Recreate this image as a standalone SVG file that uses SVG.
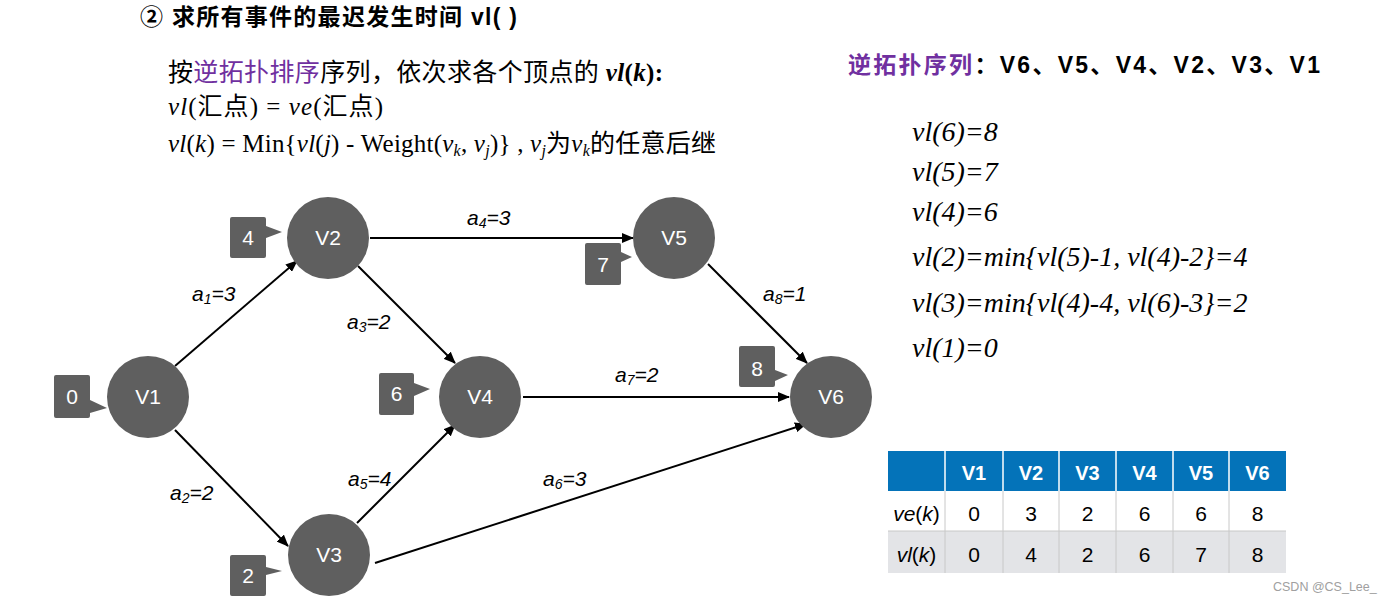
<svg xmlns="http://www.w3.org/2000/svg" width="1387" height="602" viewBox="0 0 1387 602">
<style>
.title{font-family:"Liberation Sans","Noto Sans CJK SC",sans-serif;font-weight:bold;font-size:23px;fill:#000}
.serif{font-family:"Liberation Serif","Noto Sans CJK SC",serif;font-size:25px;fill:#000}
.formula{font-family:"Liberation Serif",serif;font-style:italic;font-size:28px;fill:#000}
.head{font-family:"Liberation Sans","Noto Sans CJK SC",sans-serif;font-weight:bold;font-size:23px;fill:#000}
.node circle{fill:#5f5f5f}
.node text{font-family:"Liberation Sans",sans-serif;font-size:21px;fill:#fff;text-anchor:middle}
.badge path{fill:#5f5f5f}
.badge text{font-family:"Liberation Sans",sans-serif;font-size:21px;fill:#fff;text-anchor:middle}
.edge line{stroke:#000;stroke-width:2;marker-end:url(#arr)}
.elabel{font-family:"Liberation Sans",sans-serif;font-style:italic;font-size:21px;fill:#000}
.sub{font-size:14px}
.th{font-family:"Liberation Sans",sans-serif;font-weight:bold;font-size:20px;fill:#fff;text-anchor:middle}
.td{font-family:"Liberation Sans",sans-serif;font-size:21px;fill:#000;text-anchor:middle}
.purple{fill:#7030a0}
</style>
<defs>
<marker id="arr" markerUnits="userSpaceOnUse" markerWidth="12" markerHeight="10" refX="11" refY="5" orient="auto">
<path d="M0,0 L12,5 L0,10 z" fill="#000"/>
</marker>
</defs>
<rect width="1387" height="602" fill="#fff"/>

<text class="title" x="140" y="25" textLength="377" lengthAdjust="spacing">② 求所有事件的最迟发生时间 vl( )</text>

<text class="serif" x="168" y="81" textLength="495" lengthAdjust="spacing">按<tspan class="purple">逆拓扑排序</tspan>序列，依次求各个顶点的 <tspan font-weight="bold" font-style="italic">vl</tspan><tspan font-weight="bold">(</tspan><tspan font-weight="bold" font-style="italic">k</tspan><tspan font-weight="bold">):</tspan></text>
<text class="serif" x="168" y="115" textLength="215" lengthAdjust="spacing"><tspan font-style="italic">vl</tspan>(汇点) = <tspan font-style="italic">ve</tspan>(汇点)</text>
<text class="serif" x="168" y="152" textLength="548" lengthAdjust="spacing"><tspan font-style="italic">vl</tspan>(<tspan font-style="italic">k</tspan>) = Min{<tspan font-style="italic">vl</tspan>(<tspan font-style="italic">j</tspan>) - Weight(<tspan font-style="italic">v</tspan><tspan font-style="italic" font-size="16" dy="4">k</tspan><tspan dy="-4">, </tspan><tspan font-style="italic">v</tspan><tspan font-style="italic" font-size="16" dy="4">j</tspan><tspan dy="-4">)} , </tspan><tspan font-style="italic">v</tspan><tspan font-style="italic" font-size="16" dy="4">j</tspan><tspan dy="-4">为</tspan><tspan font-style="italic">v</tspan><tspan font-style="italic" font-size="16" dy="4">k</tspan><tspan dy="-4">的任意后继</tspan></text>

<text class="head" x="848" y="73" textLength="472" lengthAdjust="spacing"><tspan class="purple">逆拓扑序列</tspan>：V6、V5、V4、V2、V3、V1</text>

<text class="formula" x="912" y="141">vl(6)=8</text>
<text class="formula" x="912" y="181">vl(5)=7</text>
<text class="formula" x="912" y="221">vl(4)=6</text>
<text class="formula" x="912" y="266">vl(2)=min{vl(5)-1, vl(4)-2}=4</text>
<text class="formula" x="912" y="312">vl(3)=min{vl(4)-4, vl(6)-3}=2</text>
<text class="formula" x="912" y="357">vl(1)=0</text>

<g id="connectors" class="edge">
<line x1="175" y1="366" x2="297" y2="261"/>
<line x1="370" y1="238" x2="633" y2="238"/>
<line x1="358" y1="266" x2="455" y2="363"/>
<line x1="708" y1="264" x2="807" y2="363"/>
<line x1="523" y1="397" x2="789" y2="397"/>
<line x1="175" y1="430" x2="288" y2="546"/>
<line x1="357" y1="523" x2="455" y2="425"/>
<line x1="375" y1="563" x2="806" y2="424"/>
</g>

<g id="edge-labels">
<text class="elabel" x="192" y="301">a<tspan class="sub" dy="3">1</tspan><tspan dy="-3">=3</tspan></text>
<text class="elabel" x="170" y="500">a<tspan class="sub" dy="3">2</tspan><tspan dy="-3">=2</tspan></text>
<text class="elabel" x="347" y="329">a<tspan class="sub" dy="3">3</tspan><tspan dy="-3">=2</tspan></text>
<text class="elabel" x="467" y="225">a<tspan class="sub" dy="3">4</tspan><tspan dy="-3">=3</tspan></text>
<text class="elabel" x="348" y="486">a<tspan class="sub" dy="3">5</tspan><tspan dy="-3">=4</tspan></text>
<text class="elabel" x="543" y="486">a<tspan class="sub" dy="3">6</tspan><tspan dy="-3">=3</tspan></text>
<text class="elabel" x="615" y="382">a<tspan class="sub" dy="3">7</tspan><tspan dy="-3">=2</tspan></text>
<text class="elabel" x="763" y="301">a<tspan class="sub" dy="3">8</tspan><tspan dy="-3">=1</tspan></text>
</g>

<g id="V1" class="node"><circle cx="148" cy="397" r="41"/><text x="148" y="404">V1</text></g>
<g id="V2" class="node"><circle cx="328" cy="238" r="41"/><text x="328" y="245">V2</text></g>
<g id="V3" class="node"><circle cx="329" cy="555" r="41"/><text x="329" y="562">V3</text></g>
<g id="V4" class="node"><circle cx="480" cy="397" r="41"/><text x="480" y="404">V4</text></g>
<g id="V5" class="node"><circle cx="674" cy="238" r="41"/><text x="674" y="245">V5</text></g>
<g id="V6" class="node"><circle cx="831" cy="397" r="41"/><text x="831" y="404">V6</text></g>

<g id="badge-V1" class="badge"><path d="M56,375 H88 Q90,375 90,377 V400 L107,408 L90,413 V416 Q90,418 88,418 H56 Q54,418 54,416 V377 Q54,375 56,375 z"/><text x="72" y="404">0</text></g>
<g id="badge-V2" class="badge"><path d="M232,217 H264 Q266,217 266,219 V226 L282,232 L266,238 V256 Q266,258 264,258 H232 Q230,258 230,256 V219 Q230,217 232,217 z"/><text x="248" y="245">4</text></g>
<g id="badge-V4" class="badge"><path d="M381,373 H412 Q414,373 414,375 V383 L430,389 L414,396 V413 Q414,415 412,415 H381 Q379,415 379,413 V375 Q379,373 381,373 z"/><text x="396.5" y="401">6</text></g>
<g id="badge-V5" class="badge"><path d="M587,243 H619 Q621,243 621,245 V252 L632,257 L621,262 V283 Q621,285 619,285 H587 Q585,285 585,283 V245 Q585,243 587,243 z"/><text x="603" y="272">7</text></g>
<g id="badge-V6" class="badge"><path d="M741,346 H773 Q775,346 775,348 V370 L788,375 L775,381 V385 Q775,387 773,387 H741 Q739,387 739,385 V348 Q739,346 741,346 z"/><text x="757" y="376">8</text></g>
<g id="badge-V3" class="badge"><path d="M232,555 H264 Q266,555 266,557 V567 L282,571 L266,575 V594 Q266,596 264,596 H232 Q230,596 230,594 V557 Q230,555 232,555 z"/><text x="248" y="583">2</text></g>

<g id="table">
<rect x="888" y="451" width="398" height="40" fill="#0473b9"/>
<rect x="888" y="491" width="398" height="40" fill="#fff"/>
<rect x="888" y="531" width="398" height="42" fill="#e3e4e7"/>
<g stroke="#fff" stroke-width="1.5">
<line x1="945" y1="451" x2="945" y2="491"/><line x1="1003" y1="451" x2="1003" y2="491"/><line x1="1059" y1="451" x2="1059" y2="491"/><line x1="1116" y1="451" x2="1116" y2="491"/><line x1="1173" y1="451" x2="1173" y2="491"/><line x1="1229" y1="451" x2="1229" y2="491"/>
</g>
<g stroke="#c8c8c8" stroke-width="1">
<line x1="888" y1="531" x2="1286" y2="531"/>
<line x1="945" y1="491" x2="945" y2="573"/><line x1="1003" y1="491" x2="1003" y2="573"/><line x1="1059" y1="491" x2="1059" y2="573"/><line x1="1116" y1="491" x2="1116" y2="573"/><line x1="1173" y1="491" x2="1173" y2="573"/><line x1="1229" y1="491" x2="1229" y2="573"/>
</g>
<text class="th" x="974" y="480">V1</text><text class="th" x="1031" y="480">V2</text><text class="th" x="1087.5" y="480">V3</text><text class="th" x="1144.5" y="480">V4</text><text class="th" x="1201" y="480">V5</text><text class="th" x="1257.5" y="480">V6</text>
<text class="td" x="916.5" y="521"><tspan font-style="italic">ve</tspan>(<tspan font-style="italic">k</tspan>)</text>
<text class="td" x="974" y="521">0</text><text class="td" x="1031" y="521">3</text><text class="td" x="1087.5" y="521">2</text><text class="td" x="1144.5" y="521">6</text><text class="td" x="1201" y="521">6</text><text class="td" x="1257.5" y="521">8</text>
<text class="td" x="916.5" y="562"><tspan font-style="italic">vl</tspan>(<tspan font-style="italic">k</tspan>)</text>
<text class="td" x="974" y="562">0</text><text class="td" x="1031" y="562">4</text><text class="td" x="1087.5" y="562">2</text><text class="td" x="1144.5" y="562">6</text><text class="td" x="1201" y="562">7</text><text class="td" x="1257.5" y="562">8</text>
</g>

<text x="1273" y="591" font-family="Liberation Sans, sans-serif" font-size="12.5" fill="#a0a0a0">CSDN @CS_Lee_</text>
</svg>
